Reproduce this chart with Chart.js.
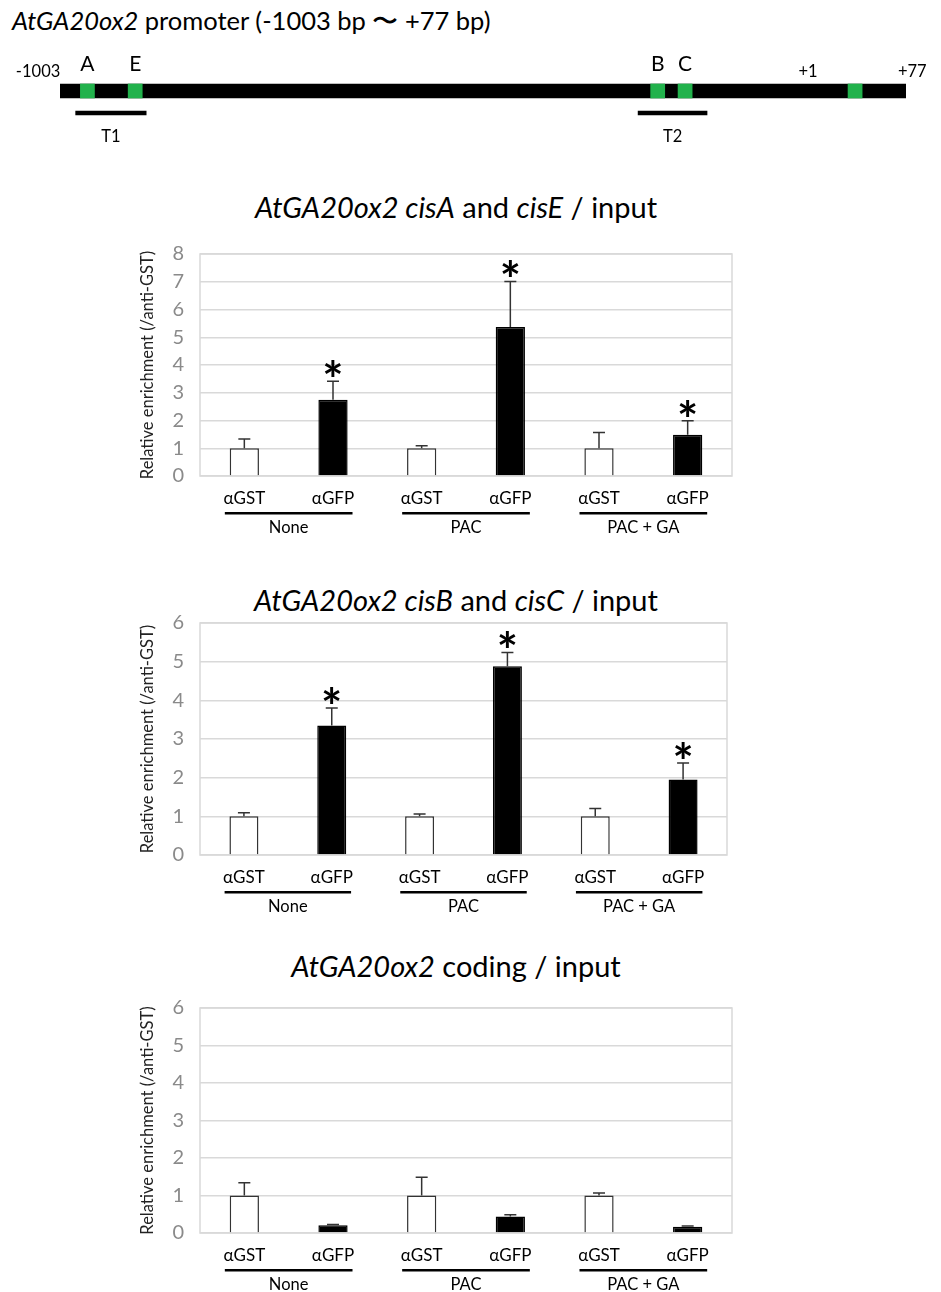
<!DOCTYPE html>
<html>
<head>
<meta charset="utf-8">
<script src="https://cdn.jsdelivr.net/npm/chart.js@4.4.0/dist/chart.umd.min.js"></script>
<style>
  body { margin: 0; background: #fff; width: 941px; height: 1292px; position: relative; overflow: hidden;
         font-family: Lato, "Noto Sans", sans-serif; color: #000; }
  canvas { position: absolute; left: 0; }
  .ttl { position: absolute; left: 0; width: 912px; text-align: center; font-size: 29px; line-height: 34px; white-space: nowrap; }
  #mainTitle { position: absolute; left: 12px; top: 5px; font-size: 25.5px; line-height: 30px; white-space: nowrap; }
</style>
</head>
<body>
<div id="mainTitle"><i>AtGA20ox2</i> promoter (-1003 bp 〜 +77 bp)</div>
<canvas id="promoter" width="941" height="130" style="top:40px"></canvas>

<div class="ttl" style="top:190px"><i>AtGA20ox2 cisA</i> and <i>cisE</i> / input</div>
<canvas id="cisAE" width="941" height="370" style="top:180px"></canvas>

<div class="ttl" style="top:583px"><i>AtGA20ox2 cisB</i> and <i>cisC</i> / input</div>
<canvas id="cisBC" width="941" height="350" style="top:575px"></canvas>

<div class="ttl" style="top:949px"><i>AtGA20ox2</i> coding / input</div>
<canvas id="coding" width="941" height="347" style="top:945px"></canvas>

<script>
// ---- promoter schematic (bp) ----
const promoterRange = [-1003, 77];
const siteNames = ['A', 'E', 'B', 'C', ''];
const siteStarts = [-977, -916, -249, -214, 3];
const siteEnds = [-959, -898, -231, -196, 21];
const ampliconNames = ['T1', 'T2'];
const ampliconStarts = [-983, -265];
const ampliconEnds = [-893, -177];
const endLabels = ['-1003', '+1', '+77'];
const endLabelAt = [-1031, -48, 85];

// ---- ChIP bar charts ----
const categories = ['αGST', 'αGFP', 'αGST', 'αGFP', 'αGST', 'αGFP'];
const groups = ['None', 'PAC', 'PAC + GA'];
const yAxisTitle = 'Relative enrichment (/anti-GST)';

const cisAEValues = [1, 2.75, 1, 5.37, 1, 1.49];
const cisAEErrors = [0.33, 0.66, 0.09, 1.64, 0.57, 0.5];
const cisAEStars = [false, true, false, true, false, true];

const cisBCValues = [1, 3.35, 1, 4.88, 1, 1.95];
const cisBCErrors = [0.09, 0.45, 0.06, 0.36, 0.2, 0.43];
const cisBCStars = [false, true, false, true, false, true];

const codingValues = [1, 0.21, 1, 0.44, 1, 0.17];
const codingErrors = [0.34, 0.02, 0.49, 0.05, 0.07, 0.02];
const codingStars = [false, false, false, false, false, false];

const FONT = 'Lato, "Noto Sans", sans-serif';
Chart.defaults.font.family = FONT;

// promoter diagram drawn as floating horizontal bars on a bp scale
const promoterLabels = {
  id: 'promoterLabels',
  afterDatasetsDraw(chart) {
    const { ctx, scales: { x, y } } = chart;
    const geneY = y.getPixelForValue(0);
    const ampY = y.getPixelForValue(1);
    ctx.save();
    ctx.fillStyle = '#000';
    ctx.textAlign = 'center';
    ctx.textBaseline = 'middle';
    ctx.font = '21px ' + FONT;
    siteNames.forEach((n, i) => {
      if (n) ctx.fillText(n, x.getPixelForValue((siteStarts[i] + siteEnds[i]) / 2), geneY - 27);
    });
    ctx.font = '16.5px ' + FONT;
    endLabels.forEach((t, i) => ctx.fillText(t, x.getPixelForValue(endLabelAt[i]), geneY - 19));
    ampliconNames.forEach((n, i) => {
      ctx.fillText(n, x.getPixelForValue((ampliconStarts[i] + ampliconEnds[i]) / 2), ampY + 24);
    });
    ctx.restore();
  }
};

new Chart(document.getElementById('promoter'), {
  type: 'bar',
  data: {
    labels: ['gene', 'amp'],
    datasets: [
      {
        data: siteStarts.map((s, i) => ({ x: [s, siteEnds[i]], y: 'gene' })),
        backgroundColor: '#22b24c', barThickness: 14, grouped: false, order: 1, borderSkipped: false
      },
      {
        data: [{ x: promoterRange, y: 'gene' }],
        backgroundColor: '#000', barThickness: 14, grouped: false, order: 2
      },
      {
        data: ampliconStarts.map((s, i) => ({ x: [s, ampliconEnds[i]], y: 'amp' })),
        backgroundColor: '#000', barThickness: 4, grouped: false, order: 3
      }
    ]
  },
  options: {
    indexAxis: 'y',
    responsive: false, animation: false, devicePixelRatio: 1,
    layout: { padding: { top: 40, left: 60, right: 35, bottom: 46 } },
    plugins: { legend: { display: false }, tooltip: { enabled: false } },
    scales: {
      x: { type: 'linear', min: promoterRange[0], max: promoterRange[1], display: false },
      y: { type: 'category', display: false }
    }
  },
  plugins: [promoterLabels]
});

function annotations(errors, stars) {
  return {
    id: 'annotations',
    beforeDatasetsDraw(chart) {
      const { ctx, chartArea: a } = chart;
      ctx.save();
      ctx.strokeStyle = '#d9d9d9';
      ctx.lineWidth = 1.5;
      ctx.strokeRect(a.left, a.top, a.right - a.left, a.bottom - a.top);
      ctx.restore();
    },
    afterDatasetsDraw(chart) {
      const { ctx, chartArea: a, scales: { x, y } } = chart;
      const values = chart.data.datasets[0].data;
      ctx.save();
      ctx.strokeStyle = '#333';
      ctx.lineWidth = 1.5;
      ctx.fillStyle = '#000';
      values.forEach((v, i) => {
        const px = x.getPixelForValue(i);
        const y0 = y.getPixelForValue(v);
        const y1 = y.getPixelForValue(v + errors[i]);
        ctx.beginPath();
        ctx.moveTo(px, y0); ctx.lineTo(px, y1);
        ctx.moveTo(px - 6, y1); ctx.lineTo(px + 6, y1);
        ctx.stroke();
        if (stars[i]) {
          ctx.font = 'bold 50px ' + FONT;
          ctx.textAlign = 'center';
          ctx.textBaseline = 'alphabetic';
          const m = ctx.measureText('*');
          ctx.fillText('*', px, y1 - 4 - m.actualBoundingBoxDescent);
        }
      });
      // treatment groups under the pairs
      const step = x.getPixelForValue(1) - x.getPixelForValue(0);
      ctx.font = '16.5px ' + FONT;
      ctx.textAlign = 'center';
      ctx.textBaseline = 'middle';
      groups.forEach((g, k) => {
        const l = x.getPixelForValue(2 * k) - 0.22 * step;
        const r = x.getPixelForValue(2 * k + 1) + 0.22 * step;
        ctx.fillRect(l, a.bottom + 36, r - l, 2.5);
        ctx.fillText(g, (l + r) / 2, a.bottom + 52);
      });
      ctx.restore();
    }
  };
}

function makeBarChart(id, values, errors, stars, yMax, box) {
  const canvas = document.getElementById(id);
  return new Chart(canvas, {
    type: 'bar',
    data: {
      labels: categories,
      datasets: [{
        data: values,
        backgroundColor: categories.map(c => c === 'αGST' ? '#fff' : '#000'),
        borderColor: categories.map(c => c === 'αGST' ? '#333' : '#000'),
        borderWidth: 1.5,
        barPercentage: 0.33,
        categoryPercentage: 1
      }]
    },
    options: {
      responsive: false, animation: false, devicePixelRatio: 1,
      layout: { padding: { top: box.top - box.canvasTop, left: 134, right: 941 - box.right, bottom: 0 } },
      plugins: { legend: { display: false }, tooltip: { enabled: false } },
      scales: {
        x: {
          grid: { display: false, drawTicks: false },
          border: { display: false },
          ticks: { font: { size: 17 }, color: '#000', padding: 12, maxRotation: 0, autoSkip: false },
          afterFit(s) { s.height = canvas.height - (box.bottom - box.canvasTop); }
        },
        y: {
          min: 0, max: yMax,
          ticks: { stepSize: 1, font: { size: 20 }, color: '#8a8a8a', padding: 16 },
          grid: { color: '#d9d9d9', lineWidth: 1.5, drawTicks: false },
          border: { display: false },
          title: { display: true, text: yAxisTitle, font: { size: 16.5 }, color: '#222' },
          afterFit(s) { s.width = 66; }
        }
      }
    },
    plugins: [annotations(errors, stars)]
  });
}

makeBarChart('cisAE', cisAEValues, cisAEErrors, cisAEStars, 8,
  { canvasTop: 180, top: 254, bottom: 476, right: 732 });
makeBarChart('cisBC', cisBCValues, cisBCErrors, cisBCStars, 6,
  { canvasTop: 575, top: 623, bottom: 855, right: 727 });
makeBarChart('coding', codingValues, codingErrors, codingStars, 6,
  { canvasTop: 945, top: 1008, bottom: 1233, right: 732 });
</script>
</body>
</html>
